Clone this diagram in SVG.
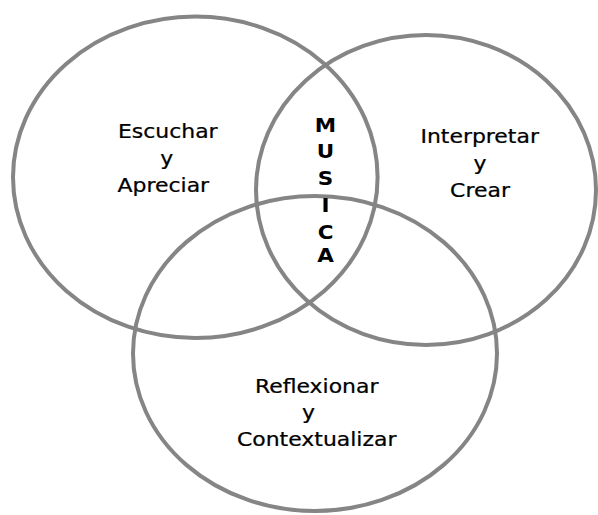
<svg xmlns="http://www.w3.org/2000/svg" width="598" height="515" viewBox="0 0 598 515">
<style>
.ring{fill:none;stroke:#858585;stroke-width:4}
.lbl{font-family:"DejaVu Sans","Verdana",sans-serif;font-size:19.6px;fill:#000;stroke:#000;stroke-width:0.25;text-anchor:middle}
.mus{font-family:"DejaVu Sans","Verdana",sans-serif;font-size:19.5px;font-weight:bold;fill:#000;text-anchor:middle}
</style>
<rect width="598" height="515" fill="#fff"/>
<g id="escuchar">
<ellipse class="ring" cx="195.3" cy="177.3" rx="182.3" ry="160.7"/>
<g transform="translate(166 0) scale(1.12 1)">
<text class="lbl" x="1.6" y="137.7">Escuchar</text>
<text class="lbl" x="0.6" y="164.8">y</text>
<text class="lbl" x="-2.4" y="192">Apreciar</text>
</g>
</g>
<g id="interpretar">
<ellipse class="ring" cx="426" cy="190" rx="170" ry="155"/>
<g transform="translate(480 0) scale(1.12 1)">
<text class="lbl" x="-0.3" y="142.7">Interpretar</text>
<text class="lbl" x="0" y="169.7">y</text>
<text class="lbl" x="0" y="196.7">Crear</text>
</g>
</g>
<g id="reflexionar">
<ellipse class="ring" cx="315" cy="353.5" rx="182" ry="157.5"/>
<g transform="translate(316.7 0) scale(1.12 1)">
<text class="lbl" x="0" y="392.7">Reflexionar</text>
<text class="lbl" x="-7.4" y="419.3">y</text>
<text class="lbl" x="0" y="446">Contextualizar</text>
</g>
</g>
<g id="musica">
<g transform="translate(325.5 0) scale(1.1 1)">
<text class="mus" x="0" y="131.7">M</text>
<text class="mus" x="0" y="158.3">U</text>
<text class="mus" x="0" y="185">S</text>
<text class="mus" x="0" y="211.7">I</text>
<text class="mus" x="0" y="239">C</text>
<text class="mus" x="0" y="261.7">A</text>
</g>
</g>
<g id="connectors"></g>
</svg>
